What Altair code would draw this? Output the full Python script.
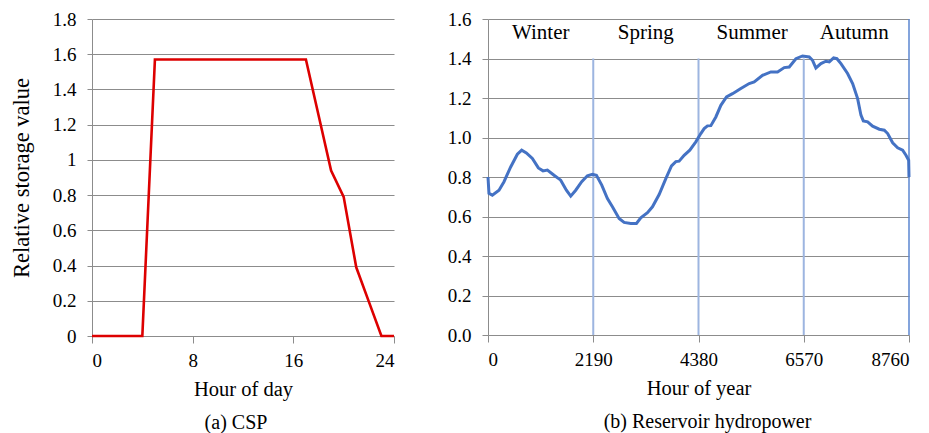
import altair as alt
import pandas as pd

# ---------------- data ----------------
csp_hours = list(range(25))
csp_values = [0, 0, 0, 0, 0,
              1.57, 1.57, 1.57, 1.57, 1.57, 1.57, 1.57, 1.57, 1.57, 1.57, 1.57, 1.57, 1.57,
              1.255, 0.94, 0.79, 0.39, 0.195, 0, 0]

hydro_hours = [0, 20, 90, 229, 333, 472, 611, 701, 798, 923, 1048, 1145, 1236, 1374, 1513,
               1631, 1721, 1825, 1950, 2068, 2172, 2256, 2367, 2485, 2589, 2728, 2832,
               2971, 3089, 3179, 3318, 3422, 3561, 3700, 3818, 3908, 3977, 4081, 4199,
               4324, 4428, 4498, 4567, 4637, 4741, 4845, 4963, 5088, 5261, 5435, 5539,
               5712, 5886, 6025, 6164, 6268, 6407, 6545, 6684, 6753, 6823, 6927, 7031,
               7101, 7191, 7260, 7344, 7482, 7587, 7691, 7760, 7809, 7899, 8003, 8142,
               8246, 8316, 8420, 8524, 8628, 8697, 8753, 8760]
hydro_values = [0.80, 0.717, 0.708, 0.733, 0.776, 0.851, 0.915, 0.936, 0.922, 0.894, 0.846,
                0.831, 0.835, 0.809, 0.784, 0.733, 0.703, 0.733, 0.776, 0.806, 0.814, 0.809,
                0.759, 0.691, 0.649, 0.590, 0.570, 0.565, 0.565, 0.593, 0.619, 0.649, 0.711,
                0.792, 0.856, 0.878, 0.880, 0.910, 0.936, 0.978, 1.020, 1.045, 1.059, 1.060,
                1.104, 1.163, 1.205, 1.222, 1.248, 1.273, 1.281, 1.315, 1.332, 1.332, 1.354,
                1.357, 1.399, 1.413, 1.408, 1.391, 1.352, 1.374, 1.386, 1.383, 1.403, 1.399,
                1.374, 1.324, 1.273, 1.197, 1.113, 1.084, 1.079, 1.057, 1.042, 1.037, 1.020,
                0.973, 0.948, 0.936, 0.910, 0.885, 0.80]

season_lines_x = [2190, 4380, 6570]
season_lines_top = [1.4, 1.4, 1.4]
end_line_x = [8760]
end_line_top = [1.6]

season_names = ["Winter", "Spring", "Summer", "Autumn"]
season_label_x = [1097, 3284, 5497, 7621]
season_label_y = [1.527, 1.527, 1.527, 1.527]

csp_xticks = [0, 8, 16, 24]
csp_yticks = [0, 0.2, 0.4, 0.6, 0.8, 1, 1.2, 1.4, 1.6, 1.8]
hydro_xticks = [0, 2190, 4380, 6570, 8760]
hydro_yticks = [0, 0.2, 0.4, 0.6, 0.8, 1.0, 1.2, 1.4, 1.6]

FONT = "Liberation Serif"
GRID = "#8c8c8c"

csp_df = pd.DataFrame({"hour": csp_hours, "value": csp_values})
hydro_df = pd.DataFrame({"hour": hydro_hours, "value": hydro_values})
lines_df = pd.DataFrame({"hour": season_lines_x, "value": season_lines_top})
end_df = pd.DataFrame({"hour": end_line_x, "value": end_line_top})
labels_df = pd.DataFrame({"name": season_names, "hour": season_label_x, "value": season_label_y})

axis_common = dict(
    labelFont=FONT, titleFont=FONT, labelFontSize=19, titleFontSize=20.5,
    labelColor="black", titleColor="black", titleFontWeight="normal",
    domainColor=GRID, tickColor=GRID,
)

# ---------------- left: CSP ----------------
left = alt.Chart(csp_df).mark_line(color="#DD0000", strokeWidth=2.6).encode(
    x=alt.X("hour:Q", scale=alt.Scale(domain=[0, 24], nice=False),
            axis=alt.Axis(title="Hour of day", values=csp_xticks, grid=False,
                          tickSize=7, labelPadding=8, titlePadding=9, **axis_common)),
    y=alt.Y("value:Q", scale=alt.Scale(domain=[0, 1.8], nice=False),
            axis=alt.Axis(title="Relative storage value", values=csp_yticks,
                          format="~g", grid=True, gridColor=GRID, gridWidth=1.2,
                          tickSize=5, labelPadding=11, titlePadding=18.7,
                          **{**axis_common, "titleFontSize": 22.5})),
).properties(
    width=302, height=317,
    title=alt.TitleParams("(a) CSP", orient="bottom", font=FONT, fontSize=20,
                          fontWeight="normal", color="black", offset=13, frame="group", dx=-7),
)

# ---------------- right: reservoir hydropower ----------------
x_scale = alt.Scale(domain=[0, 8760], nice=False)
y_scale = alt.Scale(domain=[0, 1.6], nice=False)
x_axis = alt.Axis(title="Hour of year", values=hydro_xticks, format="d", grid=False,
                  tickSize=7, labelPadding=8, titlePadding=9, **axis_common)
y_axis = alt.Axis(title=None, values=hydro_yticks, format=".1f", grid=True,
                  gridColor=GRID, gridWidth=1.2, tickSize=6, labelPadding=11, **axis_common)

def hx():
    return alt.X("hour:Q", scale=x_scale, axis=x_axis)

def hy():
    return alt.Y("value:Q", scale=y_scale, axis=y_axis)

hydro_line = alt.Chart(hydro_df).mark_line(color="#4472C4", strokeWidth=3).encode(x=hx(), y=hy())

season_rules = alt.Chart(lines_df).mark_rule(color="#9DB5E0", strokeWidth=2).encode(
    x=hx(), y=hy(), y2=alt.datum(0))
end_rule = alt.Chart(end_df).mark_rule(color="#5B86D0", strokeWidth=1.5).encode(
    x=hx(), y=hy(), y2=alt.datum(0))

season_text = alt.Chart(labels_df).mark_text(font=FONT, fontSize=21, color="black").encode(
    x=hx(), y=hy(), text="name:N")

right = alt.layer(season_rules, end_rule, hydro_line, season_text).properties(
    width=421, height=316,
    title=alt.TitleParams("(b)  Reservoir hydropower", orient="bottom", font=FONT, fontSize=20,
                          fontWeight="normal", color="black", offset=13, frame="group", dx=9),
)

chart = alt.hconcat(left, right, spacing=94, bounds="flush").properties(
    padding={"left": 2, "top": 2, "right": 0, "bottom": 0}
).configure_view(stroke=None).configure_concat(spacing=94)

chart.save("out.html", embed_options={"renderer": "svg", "actions": False})
